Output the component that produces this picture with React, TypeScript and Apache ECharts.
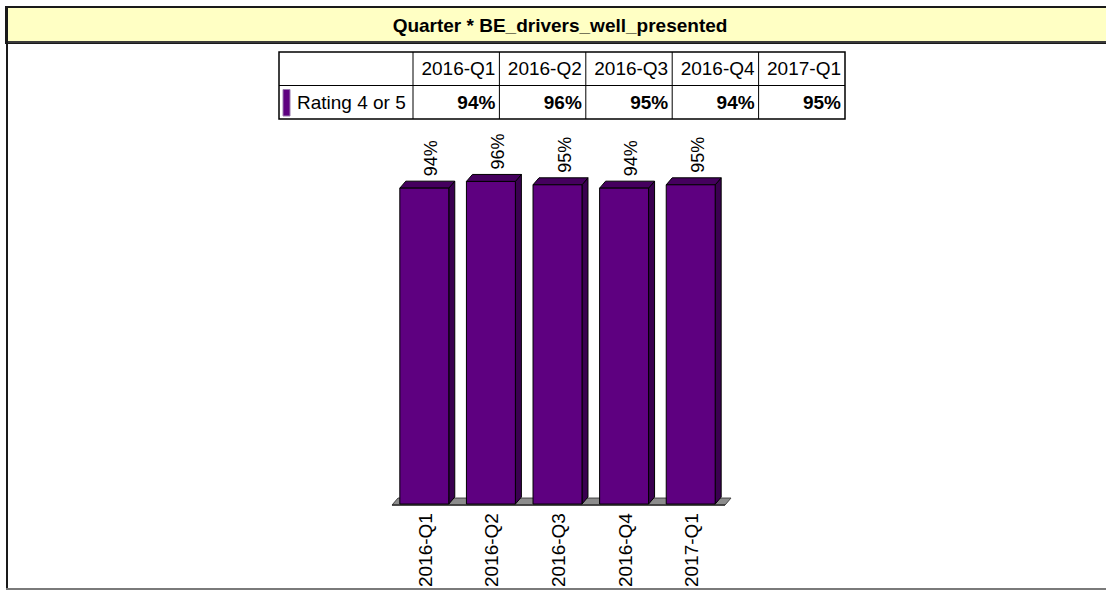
import React, { useEffect, useRef } from "react";
import * as echarts from "echarts";

const title = "Quarter * BE_drivers_well_presented";
const categories = ["2016-Q1", "2016-Q2", "2016-Q3", "2016-Q4", "2017-Q1"];
const seriesName = "Rating 4 or 5";
const values = [94, 96, 95, 94, 95];

const FONT = "'Liberation Sans', Arial, sans-serif";
const PURPLE = "#5E0080";
const PURPLE_TOP = "#45005E";
const PURPLE_SIDE = "#3A0050";

export default function App() {
  const ref = useRef<HTMLDivElement>(null);
  useEffect(() => {
    if (!ref.current) return;
    const chart = echarts.init(ref.current, null, { renderer: "svg" });

    const tLeft = 279;
    const firstW = 134;
    const colW = 86.4;
    const tTop = 52;
    const rowH = 33.5;
    const tWidth = firstW + colW * categories.length;
    const tableEls: any[] = [];
    tableEls.push({
      type: "rect",
      shape: { x: tLeft, y: tTop, width: tWidth, height: rowH * 2 },
      style: { fill: "#fff", stroke: "#000", lineWidth: 1.5 },
      z: 10,
    });
    tableEls.push({
      type: "line",
      shape: { x1: tLeft, y1: tTop + rowH, x2: tLeft + tWidth, y2: tTop + rowH },
      style: { stroke: "#000", lineWidth: 1 },
      z: 11,
    });
    for (let i = 0; i < categories.length; i++) {
      const x = tLeft + firstW + colW * i;
      tableEls.push({
        type: "line",
        shape: { x1: x, y1: tTop, x2: x, y2: tTop + rowH * 2 },
        style: { stroke: "#000", lineWidth: 1 },
        z: 11,
      });
      const right = x + colW - 4;
      tableEls.push({
        type: "text",
        x: right,
        y: tTop + rowH / 2,
        style: {
          text: categories[i],
          fill: "#000",
          font: `19px ${FONT}`,
          align: "right",
          verticalAlign: "middle",
        },
        z: 12,
      });
      tableEls.push({
        type: "text",
        x: right,
        y: tTop + rowH * 1.5,
        style: {
          text: values[i] + "%",
          fill: "#000",
          font: `bold 19px ${FONT}`,
          align: "right",
          verticalAlign: "middle",
        },
        z: 12,
      });
    }
    tableEls.push({
      type: "rect",
      shape: { x: tLeft + 4, y: tTop + rowH + 4, width: 7, height: rowH - 7 },
      style: { fill: PURPLE, stroke: "#9a7ab0", lineWidth: 1 },
      z: 12,
    });
    tableEls.push({
      type: "text",
      x: tLeft + 18,
      y: tTop + rowH * 1.5,
      style: {
        text: seriesName,
        fill: "#000",
        font: `19px ${FONT}`,
        align: "left",
        verticalAlign: "middle",
      },
      z: 12,
    });

    const DX = 6;
    const DY = 7;

    const option: any = {
      animation: false,
      backgroundColor: "#fff",
      grid: { left: 392, right: 1106 - 725, top: 168, bottom: 590 - 506 },
      xAxis: {
        type: "category",
        data: categories,
        axisLine: { show: false },
        axisTick: { show: false },
        axisLabel: {
          rotate: 90,
          fontSize: 19,
          fontFamily: FONT,
          color: "#000",
          margin: 9,
        },
      },
      yAxis: {
        type: "value",
        min: 0,
        max: 100,
        show: false,
        splitLine: { show: false },
      },
      graphic: [
        {
          type: "rect",
          shape: { x: 6, y: 7, width: 1110, height: 36 },
          style: { fill: "#FFFFC4", stroke: "#1a1a1a", lineWidth: 2 },
          z: 5,
        },
        {
          type: "line",
          shape: { x1: 6, y1: 42, x2: 1110, y2: 42 },
          style: { stroke: "#3a3a3a", lineWidth: 2 },
          z: 6,
        },
        {
          type: "line",
          shape: { x1: 7, y1: 7, x2: 7, y2: 589 },
          style: { stroke: "#1a1a1a", lineWidth: 2 },
          z: 6,
        },
        {
          type: "line",
          shape: { x1: 6, y1: 589, x2: 1110, y2: 589 },
          style: { stroke: "#7a7a7a", lineWidth: 2 },
          z: 6,
        },
        {
          type: "text",
          x: 560,
          y: 25,
          style: {
            text: title,
            fill: "#000",
            font: `bold 19px ${FONT}`,
            align: "center",
            verticalAlign: "middle",
          },
          z: 7,
        },
        ...tableEls,
      ],
      series: [
        {
          type: "custom",
          z: 1,
          data: values.map((v, i) => [i, v]),
          renderItem: (params: any, api: any) => {
            if (params.dataIndex !== 0) return null;
            const bw = api.size([1, 0])[0];
            const first = api.coord([0, 0]);
            const last = api.coord([categories.length - 1, 0]);
            const l = first[0] - bw / 2;
            const r = last[0] + bw / 2;
            const y = first[1] + 1;
            return {
              type: "group",
              children: [
                {
                  type: "polygon",
                  shape: {
                    points: [
                      [l, y],
                      [r, y],
                      [r + DX, y - DY],
                      [l + DX, y - DY],
                    ],
                  },
                  style: { fill: "#8c8c8c", stroke: "#444", lineWidth: 1 },
                },
                {
                  type: "line",
                  shape: { x1: l, y1: y, x2: r, y2: y },
                  style: { stroke: "#333", lineWidth: 1.5 },
                },
              ],
            };
          },
        },
        {
          type: "custom",
          z: 2,
          data: values.map((v, i) => [i, v]),
          renderItem: (params: any, api: any) => {
            const c = api.coord([api.value(0), api.value(1)]);
            const base = api.coord([api.value(0), 0]);
            const bw = api.size([1, 0])[0];
            const fw = bw * 0.735;
            const x = c[0] - fw / 2 - 1;
            const y = c[1];
            const b = base[1];
            return {
              type: "group",
              children: [
                {
                  type: "polygon",
                  shape: {
                    points: [
                      [x + fw, y],
                      [x + fw + DX, y - DY],
                      [x + fw + DX, b - DY],
                      [x + fw, b],
                    ],
                  },
                  style: { fill: PURPLE_SIDE, stroke: "#000", lineWidth: 1 },
                },
                {
                  type: "polygon",
                  shape: {
                    points: [
                      [x, y],
                      [x + DX, y - DY],
                      [x + fw + DX, y - DY],
                      [x + fw, y],
                    ],
                  },
                  style: { fill: PURPLE_TOP, stroke: "#000", lineWidth: 1 },
                },
                {
                  type: "rect",
                  shape: { x, y, width: fw, height: b - y },
                  style: { fill: PURPLE, stroke: "#000", lineWidth: 1 },
                },
                {
                  type: "text",
                  x: x + fw / 2 + DX / 2 + 4,
                  y: y - DY - 5,
                  rotation: Math.PI / 2,
                  style: {
                    text: Math.round(api.value(1)) + "%",
                    fill: "#000",
                    font: `18px ${FONT}`,
                    align: "left",
                    verticalAlign: "middle",
                  },
                },
              ],
            };
          },
        },
      ],
    };
    chart.setOption(option);
    return () => chart.dispose();
  }, []);
  return (
    <div
      ref={ref}
      style={{ position: "absolute", left: 0, top: 0, width: 1106, height: 590 }}
    />
  );
}
